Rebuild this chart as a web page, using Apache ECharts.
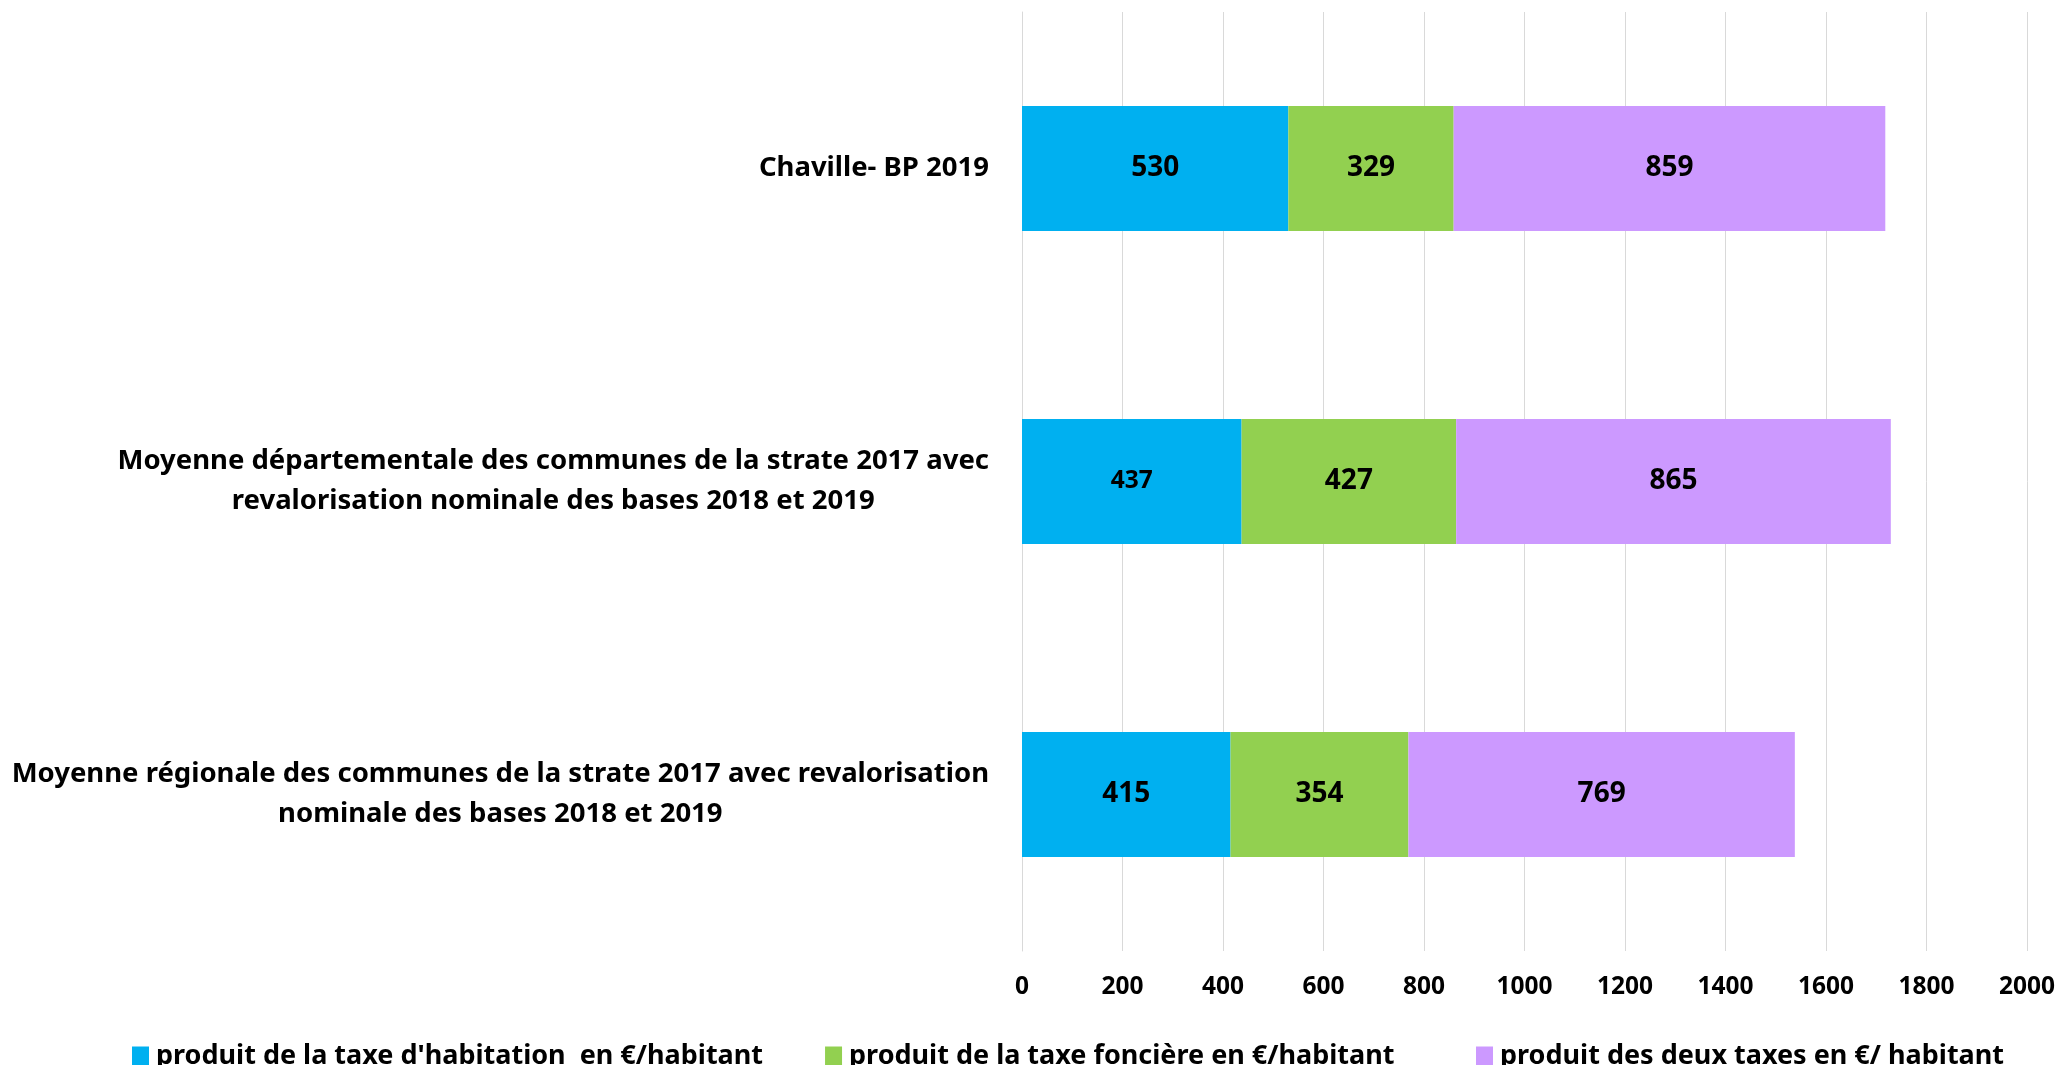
<!DOCTYPE html>
<html>
<head>
<meta charset="utf-8">
<script src="https://cdn.jsdelivr.net/npm/echarts@6/dist/echarts.min.js"></script>
<style>
html,body{margin:0;padding:0;background:#fff;}
#main{width:2060px;height:1065px;}
</style>
</head>
<body>
<div id="main"></div>
<script>
const categories = [
  "Chaville- BP 2019",
  "Moyenne départementale des communes de la strate 2017 avec\nrevalorisation nominale des bases 2018 et 2019",
  "Moyenne régionale des communes de la strate 2017 avec revalorisation\nnominale des bases 2018 et 2019"
];
const seriesNames = [
  "produit de la taxe d'habitation  en €/habitant",
  "produit de la taxe foncière en €/habitant",
  "produit des deux taxes en €/ habitant"
];
const taxeHabitation = [530, 437, 415];
const taxeFonciere = [329, 427, 354];
const deuxTaxes = [859, 865, 769];
const xTicks = [0, 200, 400, 600, 800, 1000, 1200, 1400, 1600, 1800, 2000];

const colors = ['#00B0F0', '#92D050', '#CC99FF'];
const FONT = "'Noto Sans', sans-serif";

const chart = echarts.init(document.getElementById('main'), null, {renderer: 'canvas'});

function mkSeries(name, data, color, idx) {
  return {
    name: name,
    type: 'bar',
    stack: 'total',
    barWidth: 125,
    itemStyle: {color: color},
    label: {
      show: true,
      position: 'inside',
      color: '#000',
      fontFamily: FONT,
      fontWeight: 'bold',
      fontSize: 28
    },
    data: data.map((v, i) => {
      const d = {value: v};
      if (idx === 0 && i === 1) d.label = {fontSize: 24.5};
      return d;
    })
  };
}

const legendBase = {
  top: 1038,
  itemWidth: 17,
  itemHeight: 20,
  itemGap: 62,
  icon: 'rect',
  textStyle: {fontFamily: FONT, fontWeight: 'bold', fontSize: 27, color: '#000', padding: [0,0,0,2]}
};

chart.setOption({
  animation: false,
  backgroundColor: '#fff',
  grid: {left: 1022, right: 33, top: 12, bottom: 114, containLabel: false},
  legend: [
    Object.assign({}, legendBase, {left: 127, data: seriesNames.slice(0, 2)}),
    Object.assign({}, legendBase, {left: 1471, data: seriesNames.slice(2)})
  ],
  xAxis: {
    type: 'value',
    min: 0,
    max: 2000,
    interval: 200,
    axisLine: {show: false},
    axisTick: {show: false},
    splitLine: {show: true, lineStyle: {color: '#D9D9D9', width: 1}},
    axisLabel: {
      margin: 24,
      color: '#000',
      fontFamily: FONT,
      fontWeight: 'bold',
      fontSize: 24.5,
      formatter: v => xTicks.includes(v) ? String(v) : ''
    }
  },
  yAxis: {
    type: 'category',
    inverse: true,
    data: categories,
    axisLine: {show: true, lineStyle: {color: '#D9D9D9', width: 1}},
    axisTick: {show: false},
    axisLabel: {
      margin: 33,
      align: 'right',
      formatter: v => v.split('\n').map(l => '{c|' + l + '}').join('\n'),
      rich: {
        c: {align: 'center', color: '#000', fontFamily: FONT, fontWeight: 'bold', fontSize: 27.5, lineHeight: 40}
      }
    }
  },
  series: [
    mkSeries(seriesNames[0], taxeHabitation, colors[0], 0),
    mkSeries(seriesNames[1], taxeFonciere, colors[1], 1),
    mkSeries(seriesNames[2], deuxTaxes, colors[2], 2)
  ]
});
</script>
</body>
</html>
